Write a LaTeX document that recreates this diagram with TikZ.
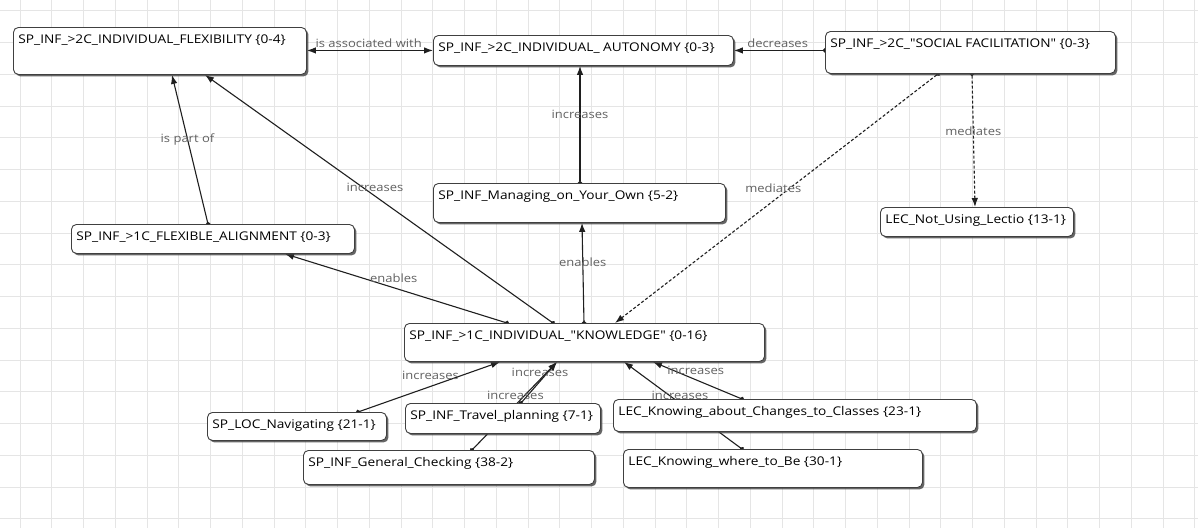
\documentclass[tikz,border=0pt]{standalone}
\usepackage{fontspec}
\setmainfont{Open Sans}[Ligatures=TeXOff, FakeStretch=1.14]
\usetikzlibrary{arrows.meta,shadows,calc}
\pgfdeclarelayer{gridlayer}
\pgfdeclarelayer{edgelayer}
\pgfsetlayers{gridlayer,edgelayer,main}

\newcommand{\mybox}[6]{%
  \pgfmathsetmacro{\bw}{#4-#2}%
  \pgfmathsetmacro{\bh}{#5-#3}%
  \node[codebox] (#1) at (#2,#3)
    {\parbox[t][\dimexpr\bh pt-8pt\relax][t]{\dimexpr\bw pt-10pt\relax}{\raggedright\rule{0pt}{12pt}#6}};
}

\begin{document}
\begin{tikzpicture}[x=1pt,y=-1pt,
  gridline/.style={draw=black!10, line width=1pt},
  codebox/.style={draw=black!75, line width=0.9pt, rounded corners=5pt, fill=white,
    anchor=north west, inner xsep=5pt, inner ysep=4pt,
    drop shadow={shadow xshift=2pt, shadow yshift=-2pt, fill=black!75, opacity=0.8},
    font=\fontsize{12}{14}\selectfont, text=black},
  conn/.style={draw=black!88, line width=1.1pt,
    {Circle[length=4.5pt]}-{Latex[length=9pt,width=6.5pt]}, shorten <=-2.25pt},
  both/.style={draw=black!88, line width=1.1pt,
    {Latex[length=9pt,width=6.5pt]}-{Latex[length=9pt,width=6.5pt]}},
  dashconn/.style={conn, dash pattern=on 3pt off 2pt},
  elab/.style={font=\fontsize{11.4}{13}\selectfont, text=black!62, inner sep=1pt},
]
\useasboundingbox (0,0) rectangle (1198,528);

\begin{pgfonlayer}{gridlayer}
  \fill[white] (0,0) rectangle (1198,528);
  \foreach \k in {0,...,37} {\draw[gridline] ({20+31.75*\k},0) -- ({20+31.75*\k},528);}
  \foreach \k in {0,...,16} {\draw[gridline] (0,{10.75+31.75*\k}) -- (1198,{10.75+31.75*\k});}
\end{pgfonlayer}

\mybox{flex}{13}{27}{306}{74}{SP\_INF\_>2C\_INDIVIDUAL\_FLEXIBILITY \{0-4\}}
\mybox{auto}{433}{35}{733}{65}{SP\_INF\_>2C\_INDIVIDUAL\_ AUTONOMY \{0-3\}}
\mybox{social}{825}{31}{1115}{73}{SP\_INF\_>2C\_"SOCIAL FACILITATION" \{0-3\}}
\mybox{manage}{433}{183}{725}{222}{SP\_INF\_Managing\_on\_Your\_Own \{5-2\}}
\mybox{align}{71}{224}{354}{253}{SP\_INF\_>1C\_FLEXIBLE\_ALIGNMENT \{0-3\}}
\mybox{lectio}{880}{207}{1073}{236}{LEC\_Not\_Using\_Lectio \{13-1\}}
\mybox{know}{404}{323}{764}{361}{SP\_INF\_>1C\_INDIVIDUAL\_"KNOWLEDGE" \{0-16\}}
\mybox{nav}{207}{412}{386}{440}{SP\_LOC\_Navigating \{21-1\}}
\mybox{travel}{405}{403}{600}{433}{SP\_INF\_Travel\_planning \{7-1\}}
\mybox{changes}{613}{399}{976}{431}{LEC\_Knowing\_about\_Changes\_to\_Classes \{23-1\}}
\mybox{check}{303}{450}{594}{484}{SP\_INF\_General\_Checking \{38-2\}}
\mybox{where}{623}{449}{922}{487}{LEC\_Knowing\_where\_to\_Be \{30-1\}}

\begin{pgfonlayer}{edgelayer}
  \draw[both] (flex.east |- auto.west) -- node[elab, above=1pt, pos=0.49]{is associated with} (auto.west);
  \draw[conn] (social.west |- auto.east) -- node[elab, above=1pt, pos=0.52]{decreases} (auto.east);
  \draw[conn] ([xshift=147pt]manage.north west) -- node[elab, pos=0.59]{increases} ([xshift=147pt]auto.south west);
  \draw[conn] ([xshift=137pt]align.north west) -- node[elab, pos=0.57]{is part of} ([xshift=159pt]flex.south west);
  \draw[conn] ([xshift=149pt]know.north west) -- node[elab, pos=0.546, xshift=12pt]{increases} ([xshift=192pt]flex.south west);
  \draw[conn] ([xshift=103pt]know.north west) -- node[elab, pos=0.51, yshift=10pt]{enables} ([xshift=214pt]align.south west);
  \draw[conn] ([xshift=180pt]know.north west) -- node[elab, pos=0.61]{enables} ([xshift=149pt]manage.south west);
  \draw[dashconn] ([xshift=113pt]social.south west) -- node[elab, pos=0.51, yshift=13pt]{mediates} ([xshift=211pt]know.north west);
  \draw[dashconn] ([xshift=147pt]social.south west) -- node[elab, pos=0.43]{mediates} ([xshift=95pt]lectio.north west);
  \draw[conn] ([xshift=151pt]nav.north west) -- node[elab, pos=0.51, yshift=11pt]{increases} ([xshift=96pt]know.south west);
  \draw[conn] ([xshift=116pt]travel.north west) -- node[elab, pos=0.53, yshift=9pt]{increases} ([xshift=153pt]know.south west);
  \draw[conn] ([xshift=169pt]check.north west) -- node[elab, pos=0.51, yshift=10pt]{increases} ([xshift=153pt]know.south west);
  \draw[conn] ([xshift=129pt]changes.north west) -- node[elab, pos=0.52, yshift=9pt]{increases} ([xshift=249pt]know.south west);
  \draw[conn] ([xshift=119pt]where.north west) -- node[elab, pos=0.525, yshift=8pt]{increases} ([xshift=220pt]know.south west);
\end{pgfonlayer}
\end{tikzpicture}
\end{document}
